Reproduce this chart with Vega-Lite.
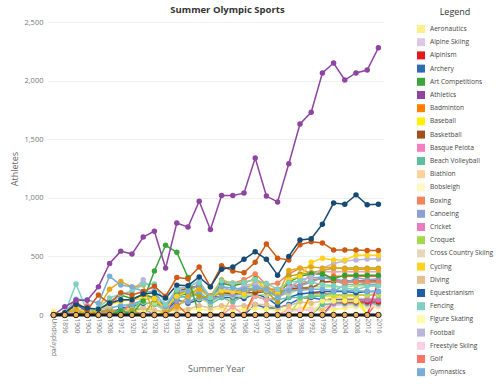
{
"$schema":"https://vega.github.io/schema/vega-lite/v6.json",
"width":353,"height":293,
"autosize":{"type":"none"},
"padding":{"left":45,"top":22,"right":102,"bottom":74},
"background":"white",
"config":{"font":"Open Sans","view":{"stroke":null},
"legend":{"padding":0,"symbolType":"square","symbolSize":64,"symbolStrokeWidth":0,"symbolOpacity":1,"labelFontSize":6.6,"labelColor":"#444","labelOffset":5,"rowPadding":5.2,"titleFontSize":9,"titleFontWeight":"normal","titleColor":"#333","titleAnchor":"middle","titlePadding":8,"labelLimit":120}},
"title":{"text":"Summer Olympic Sports","fontSize":9.5,"fontWeight":"bold","color":"#333","anchor":"middle","dx":6,"offset":-6},
"datasets":{
"zero":[{"x":"Undisplayed","v":0},{"x":"1896","v":0},{"x":"1900","v":0},{"x":"1904","v":0},{"x":"1906","v":0},{"x":"1908","v":0},{"x":"1912","v":0},{"x":"1920","v":0},{"x":"1924","v":0},{"x":"1928","v":0},{"x":"1932","v":0},{"x":"1936","v":0},{"x":"1948","v":0},{"x":"1952","v":0},{"x":"1956","v":0},{"x":"1960","v":0},{"x":"1964","v":0},{"x":"1968","v":0},{"x":"1972","v":0},{"x":"1976","v":0},{"x":"1980","v":0},{"x":"1984","v":0},{"x":"1988","v":0},{"x":"1992","v":0},{"x":"1996","v":0},{"x":"2000","v":0},{"x":"2004","v":0},{"x":"2008","v":0},{"x":"2012","v":0},{"x":"2016","v":0}],
"sports":[
{"s":"Aeronautics","x":"Undisplayed","v":35},{"s":"Aeronautics","x":"1896","v":0},
{"s":"Basque Pelota","x":"1896","v":0},{"s":"Basque Pelota","x":"1900","v":4},{"s":"Basque Pelota","x":"1904","v":0},
{"s":"Cricket","x":"1896","v":0},{"s":"Cricket","x":"1900","v":25},{"s":"Cricket","x":"1904","v":0},
{"s":"Croquet","x":"1896","v":0},{"s":"Croquet","x":"1900","v":10},{"s":"Croquet","x":"1904","v":0},
{"s":"Alpinism","x":"1920","v":0},{"s":"Alpinism","x":"1924","v":13},{"s":"Alpinism","x":"1928","v":0},{"s":"Alpinism","x":"1932","v":2},{"s":"Alpinism","x":"1936","v":2},{"s":"Alpinism","x":"1948","v":0},
{"s":"Figure Skating","x":"1904","v":0},{"s":"Figure Skating","x":"1908","v":20},{"s":"Figure Skating","x":"1912","v":0},{"s":"Figure Skating","x":"1920","v":25},{"s":"Figure Skating","x":"1924","v":0},
{"s":"Rugby","x":"1896","v":0},{"s":"Rugby","x":"1900","v":50},{"s":"Rugby","x":"1904","v":0},{"s":"Rugby","x":"1906","v":0},{"s":"Rugby","x":"1908","v":30},{"s":"Rugby","x":"1912","v":0},{"s":"Rugby","x":"1920","v":30},{"s":"Rugby","x":"1924","v":60},{"s":"Rugby","x":"1928","v":0},
{"s":"Tug-Of-War","x":"1896","v":0},{"s":"Tug-Of-War","x":"1900","v":10},{"s":"Tug-Of-War","x":"1904","v":20},{"s":"Tug-Of-War","x":"1906","v":30},{"s":"Tug-Of-War","x":"1908","v":30},{"s":"Tug-Of-War","x":"1912","v":20},{"s":"Tug-Of-War","x":"1920","v":40},{"s":"Tug-Of-War","x":"1924","v":0},
{"s":"Polo","x":"1896","v":0},{"s":"Polo","x":"1900","v":20},{"s":"Polo","x":"1904","v":0},{"s":"Polo","x":"1908","v":10},{"s":"Polo","x":"1912","v":0},{"s":"Polo","x":"1920","v":20},{"s":"Polo","x":"1924","v":25},{"s":"Polo","x":"1928","v":0},{"s":"Polo","x":"1932","v":0},{"s":"Polo","x":"1936","v":25},{"s":"Polo","x":"1948","v":0},
{"s":"Golf","x":"1896","v":0},{"s":"Golf","x":"1900","v":20},{"s":"Golf","x":"1904","v":80},{"s":"Golf","x":"1906","v":0},{"s":"Golf","x":"2012","v":0},{"s":"Golf","x":"2016","v":120},
{"s":"Archery","x":"1896","v":0},{"s":"Archery","x":"1900","v":90},{"s":"Archery","x":"1904","v":30},{"s":"Archery","x":"1906","v":0},{"s":"Archery","x":"1908","v":60},{"s":"Archery","x":"1912","v":0},{"s":"Archery","x":"1920","v":30},{"s":"Archery","x":"1924","v":0},{"s":"Archery","x":"1968","v":0},{"s":"Archery","x":"1972","v":90},{"s":"Archery","x":"1976","v":60},{"s":"Archery","x":"1980","v":60},{"s":"Archery","x":"1984","v":90},{"s":"Archery","x":"1988","v":140},{"s":"Archery","x":"1992","v":150},{"s":"Archery","x":"1996","v":130},{"s":"Archery","x":"2000","v":130},{"s":"Archery","x":"2004","v":130},{"s":"Archery","x":"2008","v":130},{"s":"Archery","x":"2012","v":130},{"s":"Archery","x":"2016","v":130},
{"s":"Tennis","x":"Undisplayed","v":0},{"s":"Tennis","x":"1896","v":15},{"s":"Tennis","x":"1900","v":30},{"s":"Tennis","x":"1904","v":35},{"s":"Tennis","x":"1906","v":35},{"s":"Tennis","x":"1908","v":50},{"s":"Tennis","x":"1912","v":90},{"s":"Tennis","x":"1920","v":90},{"s":"Tennis","x":"1924","v":130},{"s":"Tennis","x":"1928","v":0},{"s":"Tennis","x":"1984","v":0},{"s":"Tennis","x":"1988","v":140},{"s":"Tennis","x":"1992","v":180},{"s":"Tennis","x":"1996","v":180},{"s":"Tennis","x":"2000","v":170},{"s":"Tennis","x":"2004","v":170},{"s":"Tennis","x":"2008","v":170},{"s":"Tennis","x":"2012","v":170},{"s":"Tennis","x":"2016","v":190},
{"s":"Modern Pentathlon","x":"1908","v":0},{"s":"Modern Pentathlon","x":"1912","v":30},{"s":"Modern Pentathlon","x":"1920","v":25},{"s":"Modern Pentathlon","x":"1924","v":40},{"s":"Modern Pentathlon","x":"1928","v":40},{"s":"Modern Pentathlon","x":"1932","v":25},{"s":"Modern Pentathlon","x":"1936","v":40},{"s":"Modern Pentathlon","x":"1948","v":45},{"s":"Modern Pentathlon","x":"1952","v":50},{"s":"Modern Pentathlon","x":"1956","v":40},{"s":"Modern Pentathlon","x":"1960","v":60},{"s":"Modern Pentathlon","x":"1964","v":40},{"s":"Modern Pentathlon","x":"1968","v":50},{"s":"Modern Pentathlon","x":"1972","v":60},{"s":"Modern Pentathlon","x":"1976","v":50},{"s":"Modern Pentathlon","x":"1980","v":40},{"s":"Modern Pentathlon","x":"1984","v":50},{"s":"Modern Pentathlon","x":"1988","v":60},{"s":"Modern Pentathlon","x":"1992","v":60},{"s":"Modern Pentathlon","x":"1996","v":30},{"s":"Modern Pentathlon","x":"2000","v":50},{"s":"Modern Pentathlon","x":"2004","v":60},{"s":"Modern Pentathlon","x":"2008","v":70},{"s":"Modern Pentathlon","x":"2012","v":70},{"s":"Modern Pentathlon","x":"2016","v":70},
{"s":"Diving","x":"1900","v":0},{"s":"Diving","x":"1904","v":5},{"s":"Diving","x":"1906","v":10},{"s":"Diving","x":"1908","v":40},{"s":"Diving","x":"1912","v":50},{"s":"Diving","x":"1920","v":50},{"s":"Diving","x":"1924","v":60},{"s":"Diving","x":"1928","v":40},{"s":"Diving","x":"1932","v":30},{"s":"Diving","x":"1936","v":50},{"s":"Diving","x":"1948","v":50},{"s":"Diving","x":"1952","v":80},{"s":"Diving","x":"1956","v":60},{"s":"Diving","x":"1960","v":80},{"s":"Diving","x":"1964","v":70},{"s":"Diving","x":"1968","v":80},{"s":"Diving","x":"1972","v":90},{"s":"Diving","x":"1976","v":90},{"s":"Diving","x":"1980","v":60},{"s":"Diving","x":"1984","v":80},{"s":"Diving","x":"1988","v":110},{"s":"Diving","x":"1992","v":100},{"s":"Diving","x":"1996","v":120},{"s":"Diving","x":"2000","v":150},{"s":"Diving","x":"2004","v":140},{"s":"Diving","x":"2008","v":140},{"s":"Diving","x":"2012","v":140},{"s":"Diving","x":"2016","v":140},
{"s":"Synchronized Swimming","x":"1980","v":0},{"s":"Synchronized Swimming","x":"1984","v":50},{"s":"Synchronized Swimming","x":"1988","v":40},{"s":"Synchronized Swimming","x":"1992","v":45},{"s":"Synchronized Swimming","x":"1996","v":50},{"s":"Synchronized Swimming","x":"2000","v":100},{"s":"Synchronized Swimming","x":"2004","v":100},{"s":"Synchronized Swimming","x":"2008","v":100},{"s":"Synchronized Swimming","x":"2012","v":100},{"s":"Synchronized Swimming","x":"2016","v":100},
{"s":"Rhythmic Gymnastics","x":"1980","v":0},{"s":"Rhythmic Gymnastics","x":"1984","v":30},{"s":"Rhythmic Gymnastics","x":"1988","v":40},{"s":"Rhythmic Gymnastics","x":"1992","v":40},{"s":"Rhythmic Gymnastics","x":"1996","v":80},{"s":"Rhythmic Gymnastics","x":"2000","v":80},{"s":"Rhythmic Gymnastics","x":"2004","v":80},{"s":"Rhythmic Gymnastics","x":"2008","v":80},{"s":"Rhythmic Gymnastics","x":"2012","v":80},{"s":"Rhythmic Gymnastics","x":"2016","v":80},
{"s":"Beach Volleyball","x":"1992","v":0},{"s":"Beach Volleyball","x":"1996","v":90},{"s":"Beach Volleyball","x":"2000","v":96},{"s":"Beach Volleyball","x":"2004","v":96},{"s":"Beach Volleyball","x":"2008","v":96},{"s":"Beach Volleyball","x":"2012","v":96},{"s":"Beach Volleyball","x":"2016","v":96},
{"s":"Triathlon","x":"1996","v":0},{"s":"Triathlon","x":"2000","v":110},{"s":"Triathlon","x":"2004","v":110},{"s":"Triathlon","x":"2008","v":110},{"s":"Triathlon","x":"2012","v":110},{"s":"Triathlon","x":"2016","v":110},
{"s":"Taekwondo","x":"1996","v":0},{"s":"Taekwondo","x":"2000","v":100},{"s":"Taekwondo","x":"2004","v":125},{"s":"Taekwondo","x":"2008","v":125},{"s":"Taekwondo","x":"2012","v":128},{"s":"Taekwondo","x":"2016","v":128},
{"s":"Softball","x":"1992","v":0},{"s":"Softball","x":"1996","v":120},{"s":"Softball","x":"2000","v":120},{"s":"Softball","x":"2004","v":120},{"s":"Softball","x":"2008","v":120},{"s":"Softball","x":"2012","v":0},
{"s":"Baseball","x":"1988","v":0},{"s":"Baseball","x":"1992","v":160},{"s":"Baseball","x":"1996","v":160},{"s":"Baseball","x":"2000","v":160},{"s":"Baseball","x":"2004","v":160},{"s":"Baseball","x":"2008","v":160},{"s":"Baseball","x":"2012","v":0},
{"s":"Badminton","x":"1988","v":0},{"s":"Badminton","x":"1992","v":180},{"s":"Badminton","x":"1996","v":190},{"s":"Badminton","x":"2000","v":170},{"s":"Badminton","x":"2004","v":170},{"s":"Badminton","x":"2008","v":170},{"s":"Badminton","x":"2012","v":170},{"s":"Badminton","x":"2016","v":170},
{"s":"Table Tennis","x":"1984","v":0},{"s":"Table Tennis","x":"1988","v":130},{"s":"Table Tennis","x":"1992","v":170},{"s":"Table Tennis","x":"1996","v":170},{"s":"Table Tennis","x":"2000","v":170},{"s":"Table Tennis","x":"2004","v":170},{"s":"Table Tennis","x":"2008","v":170},{"s":"Table Tennis","x":"2012","v":170},{"s":"Table Tennis","x":"2016","v":170},
{"s":"Rugby Sevens","x":"2012","v":0},{"s":"Rugby Sevens","x":"2016","v":290},
{"s":"Equestrianism","x":"1896","v":0},{"s":"Equestrianism","x":"1900","v":50},{"s":"Equestrianism","x":"1904","v":0},{"s":"Equestrianism","x":"1908","v":0},{"s":"Equestrianism","x":"1912","v":60},{"s":"Equestrianism","x":"1920","v":70},{"s":"Equestrianism","x":"1924","v":100},{"s":"Equestrianism","x":"1928","v":110},{"s":"Equestrianism","x":"1932","v":30},{"s":"Equestrianism","x":"1936","v":130},{"s":"Equestrianism","x":"1948","v":100},{"s":"Equestrianism","x":"1952","v":130},{"s":"Equestrianism","x":"1956","v":160},{"s":"Equestrianism","x":"1960","v":150},{"s":"Equestrianism","x":"1964","v":150},{"s":"Equestrianism","x":"1968","v":140},{"s":"Equestrianism","x":"1972","v":180},{"s":"Equestrianism","x":"1976","v":150},{"s":"Equestrianism","x":"1980","v":80},{"s":"Equestrianism","x":"1984","v":150},{"s":"Equestrianism","x":"1988","v":180},{"s":"Equestrianism","x":"1992","v":190},{"s":"Equestrianism","x":"1996","v":200},{"s":"Equestrianism","x":"2000","v":200},{"s":"Equestrianism","x":"2004","v":200},{"s":"Equestrianism","x":"2008","v":190},{"s":"Equestrianism","x":"2012","v":200},{"s":"Equestrianism","x":"2016","v":200},
{"s":"Water Polo","x":"1896","v":0},{"s":"Water Polo","x":"1900","v":60},{"s":"Water Polo","x":"1904","v":20},{"s":"Water Polo","x":"1906","v":0},{"s":"Water Polo","x":"1908","v":20},{"s":"Water Polo","x":"1912","v":40},{"s":"Water Polo","x":"1920","v":80},{"s":"Water Polo","x":"1924","v":110},{"s":"Water Polo","x":"1928","v":90},{"s":"Water Polo","x":"1932","v":40},{"s":"Water Polo","x":"1936","v":150},{"s":"Water Polo","x":"1948","v":160},{"s":"Water Polo","x":"1952","v":180},{"s":"Water Polo","x":"1956","v":90},{"s":"Water Polo","x":"1960","v":150},{"s":"Water Polo","x":"1964","v":110},{"s":"Water Polo","x":"1968","v":170},{"s":"Water Polo","x":"1972","v":160},{"s":"Water Polo","x":"1976","v":130},{"s":"Water Polo","x":"1980","v":130},{"s":"Water Polo","x":"1984","v":150},{"s":"Water Polo","x":"1988","v":150},{"s":"Water Polo","x":"1992","v":160},{"s":"Water Polo","x":"1996","v":160},{"s":"Water Polo","x":"2000","v":200},{"s":"Water Polo","x":"2004","v":260},{"s":"Water Polo","x":"2008","v":260},{"s":"Water Polo","x":"2012","v":260},{"s":"Water Polo","x":"2016","v":260},
{"s":"Weightlifting","x":"Undisplayed","v":0},{"s":"Weightlifting","x":"1896","v":5},{"s":"Weightlifting","x":"1900","v":0},{"s":"Weightlifting","x":"1904","v":5},{"s":"Weightlifting","x":"1906","v":15},{"s":"Weightlifting","x":"1908","v":0},{"s":"Weightlifting","x":"1912","v":0},{"s":"Weightlifting","x":"1920","v":50},{"s":"Weightlifting","x":"1924","v":110},{"s":"Weightlifting","x":"1928","v":100},{"s":"Weightlifting","x":"1932","v":30},{"s":"Weightlifting","x":"1936","v":80},{"s":"Weightlifting","x":"1948","v":120},{"s":"Weightlifting","x":"1952","v":140},{"s":"Weightlifting","x":"1956","v":100},{"s":"Weightlifting","x":"1960","v":170},{"s":"Weightlifting","x":"1964","v":160},{"s":"Weightlifting","x":"1968","v":160},{"s":"Weightlifting","x":"1972","v":180},{"s":"Weightlifting","x":"1976","v":170},{"s":"Weightlifting","x":"1980","v":170},{"s":"Weightlifting","x":"1984","v":180},{"s":"Weightlifting","x":"1988","v":230},{"s":"Weightlifting","x":"1992","v":240},{"s":"Weightlifting","x":"1996","v":240},{"s":"Weightlifting","x":"2000","v":240},{"s":"Weightlifting","x":"2004","v":240},{"s":"Weightlifting","x":"2008","v":250},{"s":"Weightlifting","x":"2012","v":250},{"s":"Weightlifting","x":"2016","v":250},
{"s":"Judo","x":"1960","v":0},{"s":"Judo","x":"1964","v":70},{"s":"Judo","x":"1968","v":0},{"s":"Judo","x":"1972","v":160},{"s":"Judo","x":"1976","v":130},{"s":"Judo","x":"1980","v":150},{"s":"Judo","x":"1984","v":200},{"s":"Judo","x":"1988","v":250},{"s":"Judo","x":"1992","v":360},{"s":"Judo","x":"1996","v":370},{"s":"Judo","x":"2000","v":370},{"s":"Judo","x":"2004","v":370},{"s":"Judo","x":"2008","v":370},{"s":"Judo","x":"2012","v":370},{"s":"Judo","x":"2016","v":370},
{"s":"Volleyball","x":"1960","v":0},{"s":"Volleyball","x":"1964","v":170},{"s":"Volleyball","x":"1968","v":200},{"s":"Volleyball","x":"1972","v":230},{"s":"Volleyball","x":"1976","v":220},{"s":"Volleyball","x":"1980","v":200},{"s":"Volleyball","x":"1984","v":220},{"s":"Volleyball","x":"1988","v":220},{"s":"Volleyball","x":"1992","v":230},{"s":"Volleyball","x":"1996","v":280},{"s":"Volleyball","x":"2000","v":280},{"s":"Volleyball","x":"2004","v":280},{"s":"Volleyball","x":"2008","v":280},{"s":"Volleyball","x":"2012","v":280},{"s":"Volleyball","x":"2016","v":280},
{"s":"Handball","x":"1932","v":0},{"s":"Handball","x":"1936","v":90},{"s":"Handball","x":"1948","v":0},{"s":"Handball","x":"1968","v":0},{"s":"Handball","x":"1972","v":200},{"s":"Handball","x":"1976","v":220},{"s":"Handball","x":"1980","v":220},{"s":"Handball","x":"1984","v":260},{"s":"Handball","x":"1988","v":250},{"s":"Handball","x":"1992","v":300},{"s":"Handball","x":"1996","v":310},{"s":"Handball","x":"2000","v":330},{"s":"Handball","x":"2004","v":330},{"s":"Handball","x":"2008","v":330},{"s":"Handball","x":"2012","v":330},{"s":"Handball","x":"2016","v":330},
{"s":"Basketball","x":"1932","v":0},{"s":"Basketball","x":"1936","v":200},{"s":"Basketball","x":"1948","v":230},{"s":"Basketball","x":"1952","v":250},{"s":"Basketball","x":"1956","v":160},{"s":"Basketball","x":"1960","v":190},{"s":"Basketball","x":"1964","v":180},{"s":"Basketball","x":"1968","v":190},{"s":"Basketball","x":"1972","v":190},{"s":"Basketball","x":"1976","v":200},{"s":"Basketball","x":"1980","v":200},{"s":"Basketball","x":"1984","v":220},{"s":"Basketball","x":"1988","v":230},{"s":"Basketball","x":"1992","v":230},{"s":"Basketball","x":"1996","v":280},{"s":"Basketball","x":"2000","v":290},{"s":"Basketball","x":"2004","v":290},{"s":"Basketball","x":"2008","v":290},{"s":"Basketball","x":"2012","v":290},{"s":"Basketball","x":"2016","v":290},
{"s":"Canoeing","x":"1932","v":0},{"s":"Canoeing","x":"1936","v":120},{"s":"Canoeing","x":"1948","v":110},{"s":"Canoeing","x":"1952","v":150},{"s":"Canoeing","x":"1956","v":120},{"s":"Canoeing","x":"1960","v":170},{"s":"Canoeing","x":"1964","v":170},{"s":"Canoeing","x":"1968","v":180},{"s":"Canoeing","x":"1972","v":230},{"s":"Canoeing","x":"1976","v":230},{"s":"Canoeing","x":"1980","v":170},{"s":"Canoeing","x":"1984","v":230},{"s":"Canoeing","x":"1988","v":250},{"s":"Canoeing","x":"1992","v":280},{"s":"Canoeing","x":"1996","v":320},{"s":"Canoeing","x":"2000","v":300},{"s":"Canoeing","x":"2004","v":260},{"s":"Canoeing","x":"2008","v":320},{"s":"Canoeing","x":"2012","v":300},{"s":"Canoeing","x":"2016","v":310},
{"s":"Sailing","x":"1896","v":0},{"s":"Sailing","x":"1900","v":40},{"s":"Sailing","x":"1904","v":0},{"s":"Sailing","x":"1906","v":0},{"s":"Sailing","x":"1908","v":60},{"s":"Sailing","x":"1912","v":80},{"s":"Sailing","x":"1920","v":90},{"s":"Sailing","x":"1924","v":130},{"s":"Sailing","x":"1928","v":150},{"s":"Sailing","x":"1932","v":60},{"s":"Sailing","x":"1936","v":180},{"s":"Sailing","x":"1948","v":140},{"s":"Sailing","x":"1952","v":200},{"s":"Sailing","x":"1956","v":110},{"s":"Sailing","x":"1960","v":250},{"s":"Sailing","x":"1964","v":200},{"s":"Sailing","x":"1968","v":230},{"s":"Sailing","x":"1972","v":260},{"s":"Sailing","x":"1976","v":200},{"s":"Sailing","x":"1980","v":160},{"s":"Sailing","x":"1984","v":230},{"s":"Sailing","x":"1988","v":300},{"s":"Sailing","x":"1992","v":320},{"s":"Sailing","x":"1996","v":320},{"s":"Sailing","x":"2000","v":310},{"s":"Sailing","x":"2004","v":290},{"s":"Sailing","x":"2008","v":290},{"s":"Sailing","x":"2012","v":260},{"s":"Sailing","x":"2016","v":260},
{"s":"Boxing","x":"1900","v":0},{"s":"Boxing","x":"1904","v":20},{"s":"Boxing","x":"1906","v":0},{"s":"Boxing","x":"1908","v":40},{"s":"Boxing","x":"1912","v":0},{"s":"Boxing","x":"1920","v":120},{"s":"Boxing","x":"1924","v":180},{"s":"Boxing","x":"1928","v":140},{"s":"Boxing","x":"1932","v":80},{"s":"Boxing","x":"1936","v":180},{"s":"Boxing","x":"1948","v":210},{"s":"Boxing","x":"1952","v":250},{"s":"Boxing","x":"1956","v":160},{"s":"Boxing","x":"1960","v":280},{"s":"Boxing","x":"1964","v":270},{"s":"Boxing","x":"1968","v":300},{"s":"Boxing","x":"1972","v":350},{"s":"Boxing","x":"1976","v":260},{"s":"Boxing","x":"1980","v":270},{"s":"Boxing","x":"1984","v":350},{"s":"Boxing","x":"1988","v":400},{"s":"Boxing","x":"1992","v":350},{"s":"Boxing","x":"1996","v":360},{"s":"Boxing","x":"2000","v":300},{"s":"Boxing","x":"2004","v":280},{"s":"Boxing","x":"2008","v":280},{"s":"Boxing","x":"2012","v":280},{"s":"Boxing","x":"2016","v":280},
{"s":"Hockey","x":"1904","v":0},{"s":"Hockey","x":"1908","v":50},{"s":"Hockey","x":"1912","v":0},{"s":"Hockey","x":"1920","v":40},{"s":"Hockey","x":"1924","v":0},{"s":"Hockey","x":"1928","v":130},{"s":"Hockey","x":"1932","v":40},{"s":"Hockey","x":"1936","v":180},{"s":"Hockey","x":"1948","v":200},{"s":"Hockey","x":"1952","v":160},{"s":"Hockey","x":"1956","v":150},{"s":"Hockey","x":"1960","v":190},{"s":"Hockey","x":"1964","v":200},{"s":"Hockey","x":"1968","v":210},{"s":"Hockey","x":"1972","v":220},{"s":"Hockey","x":"1976","v":200},{"s":"Hockey","x":"1980","v":110},{"s":"Hockey","x":"1984","v":330},{"s":"Hockey","x":"1988","v":350},{"s":"Hockey","x":"1992","v":360},{"s":"Hockey","x":"1996","v":380},{"s":"Hockey","x":"2000","v":400},{"s":"Hockey","x":"2004","v":400},{"s":"Hockey","x":"2008","v":400},{"s":"Hockey","x":"2012","v":400},{"s":"Hockey","x":"2016","v":400},
{"s":"Wrestling","x":"Undisplayed","v":0},{"s":"Wrestling","x":"1896","v":5},{"s":"Wrestling","x":"1900","v":0},{"s":"Wrestling","x":"1904","v":40},{"s":"Wrestling","x":"1906","v":40},{"s":"Wrestling","x":"1908","v":110},{"s":"Wrestling","x":"1912","v":170},{"s":"Wrestling","x":"1920","v":140},{"s":"Wrestling","x":"1924","v":170},{"s":"Wrestling","x":"1928","v":150},{"s":"Wrestling","x":"1932","v":70},{"s":"Wrestling","x":"1936","v":170},{"s":"Wrestling","x":"1948","v":180},{"s":"Wrestling","x":"1952","v":230},{"s":"Wrestling","x":"1956","v":140},{"s":"Wrestling","x":"1960","v":270},{"s":"Wrestling","x":"1964","v":250},{"s":"Wrestling","x":"1968","v":270},{"s":"Wrestling","x":"1972","v":310},{"s":"Wrestling","x":"1976","v":210},{"s":"Wrestling","x":"1980","v":180},{"s":"Wrestling","x":"1984","v":280},{"s":"Wrestling","x":"1988","v":330},{"s":"Wrestling","x":"1992","v":350},{"s":"Wrestling","x":"1996","v":350},{"s":"Wrestling","x":"2000","v":310},{"s":"Wrestling","x":"2004","v":340},{"s":"Wrestling","x":"2008","v":340},{"s":"Wrestling","x":"2012","v":340},{"s":"Wrestling","x":"2016","v":340},
{"s":"Football","x":"Undisplayed","v":0},{"s":"Football","x":"1896","v":0},{"s":"Football","x":"1900","v":40},{"s":"Football","x":"1904","v":30},{"s":"Football","x":"1906","v":40},{"s":"Football","x":"1908","v":70},{"s":"Football","x":"1912","v":180},{"s":"Football","x":"1920","v":200},{"s":"Football","x":"1924","v":300},{"s":"Football","x":"1928","v":200},{"s":"Football","x":"1932","v":0},{"s":"Football","x":"1936","v":230},{"s":"Football","x":"1948","v":240},{"s":"Football","x":"1952","v":290},{"s":"Football","x":"1956","v":150},{"s":"Football","x":"1960","v":230},{"s":"Football","x":"1964","v":200},{"s":"Football","x":"1968","v":250},{"s":"Football","x":"1972","v":270},{"s":"Football","x":"1976","v":210},{"s":"Football","x":"1980","v":210},{"s":"Football","x":"1984","v":230},{"s":"Football","x":"1988","v":300},{"s":"Football","x":"1992","v":320},{"s":"Football","x":"1996","v":400},{"s":"Football","x":"2000","v":440},{"s":"Football","x":"2004","v":460},{"s":"Football","x":"2008","v":470},{"s":"Football","x":"2012","v":477},{"s":"Football","x":"2016","v":477},
{"s":"Cycling","x":"Undisplayed","v":0},{"s":"Cycling","x":"1896","v":20},{"s":"Cycling","x":"1900","v":60},{"s":"Cycling","x":"1904","v":20},{"s":"Cycling","x":"1906","v":40},{"s":"Cycling","x":"1908","v":90},{"s":"Cycling","x":"1912","v":120},{"s":"Cycling","x":"1920","v":130},{"s":"Cycling","x":"1924","v":140},{"s":"Cycling","x":"1928","v":140},{"s":"Cycling","x":"1932","v":60},{"s":"Cycling","x":"1936","v":160},{"s":"Cycling","x":"1948","v":200},{"s":"Cycling","x":"1952","v":220},{"s":"Cycling","x":"1956","v":150},{"s":"Cycling","x":"1960","v":210},{"s":"Cycling","x":"1964","v":200},{"s":"Cycling","x":"1968","v":180},{"s":"Cycling","x":"1972","v":300},{"s":"Cycling","x":"1976","v":220},{"s":"Cycling","x":"1980","v":180},{"s":"Cycling","x":"1984","v":300},{"s":"Cycling","x":"1988","v":330},{"s":"Cycling","x":"1992","v":450},{"s":"Cycling","x":"1996","v":485},{"s":"Cycling","x":"2000","v":470},{"s":"Cycling","x":"2004","v":470},{"s":"Cycling","x":"2008","v":510},{"s":"Cycling","x":"2012","v":510},{"s":"Cycling","x":"2016","v":510},
{"s":"Shooting","x":"Undisplayed","v":0},{"s":"Shooting","x":"1896","v":20},{"s":"Shooting","x":"1900","v":45},{"s":"Shooting","x":"1904","v":0},{"s":"Shooting","x":"1906","v":60},{"s":"Shooting","x":"1908","v":220},{"s":"Shooting","x":"1912","v":285},{"s":"Shooting","x":"1920","v":240},{"s":"Shooting","x":"1924","v":255},{"s":"Shooting","x":"1928","v":0},{"s":"Shooting","x":"1932","v":25},{"s":"Shooting","x":"1936","v":70},{"s":"Shooting","x":"1948","v":160},{"s":"Shooting","x":"1952","v":220},{"s":"Shooting","x":"1956","v":160},{"s":"Shooting","x":"1960","v":300},{"s":"Shooting","x":"1964","v":270},{"s":"Shooting","x":"1968","v":280},{"s":"Shooting","x":"1972","v":300},{"s":"Shooting","x":"1976","v":260},{"s":"Shooting","x":"1980","v":160},{"s":"Shooting","x":"1984","v":380},{"s":"Shooting","x":"1988","v":400},{"s":"Shooting","x":"1992","v":410},{"s":"Shooting","x":"1996","v":400},{"s":"Shooting","x":"2000","v":410},{"s":"Shooting","x":"2004","v":390},{"s":"Shooting","x":"2008","v":390},{"s":"Shooting","x":"2012","v":390},{"s":"Shooting","x":"2016","v":390},
{"s":"Gymnastics","x":"Undisplayed","v":0},{"s":"Gymnastics","x":"1896","v":20},{"s":"Gymnastics","x":"1900","v":135},{"s":"Gymnastics","x":"1904","v":130},{"s":"Gymnastics","x":"1906","v":100},{"s":"Gymnastics","x":"1908","v":330},{"s":"Gymnastics","x":"1912","v":255},{"s":"Gymnastics","x":"1920","v":240},{"s":"Gymnastics","x":"1924","v":200},{"s":"Gymnastics","x":"1928","v":200},{"s":"Gymnastics","x":"1932","v":70},{"s":"Gymnastics","x":"1936","v":210},{"s":"Gymnastics","x":"1948","v":200},{"s":"Gymnastics","x":"1952","v":260},{"s":"Gymnastics","x":"1956","v":150},{"s":"Gymnastics","x":"1960","v":240},{"s":"Gymnastics","x":"1964","v":230},{"s":"Gymnastics","x":"1968","v":220},{"s":"Gymnastics","x":"1972","v":230},{"s":"Gymnastics","x":"1976","v":220},{"s":"Gymnastics","x":"1980","v":150},{"s":"Gymnastics","x":"1984","v":210},{"s":"Gymnastics","x":"1988","v":210},{"s":"Gymnastics","x":"1992","v":220},{"s":"Gymnastics","x":"1996","v":220},{"s":"Gymnastics","x":"2000","v":210},{"s":"Gymnastics","x":"2004","v":210},{"s":"Gymnastics","x":"2008","v":210},{"s":"Gymnastics","x":"2012","v":200},{"s":"Gymnastics","x":"2016","v":200},
{"s":"Fencing","x":"Undisplayed","v":0},{"s":"Fencing","x":"1896","v":15},{"s":"Fencing","x":"1900","v":265},{"s":"Fencing","x":"1904","v":30},{"s":"Fencing","x":"1906","v":60},{"s":"Fencing","x":"1908","v":145},{"s":"Fencing","x":"1912","v":180},{"s":"Fencing","x":"1920","v":200},{"s":"Fencing","x":"1924","v":260},{"s":"Fencing","x":"1928","v":265},{"s":"Fencing","x":"1932","v":90},{"s":"Fencing","x":"1936","v":220},{"s":"Fencing","x":"1948","v":240},{"s":"Fencing","x":"1952","v":280},{"s":"Fencing","x":"1956","v":150},{"s":"Fencing","x":"1960","v":290},{"s":"Fencing","x":"1964","v":270},{"s":"Fencing","x":"1968","v":280},{"s":"Fencing","x":"1972","v":300},{"s":"Fencing","x":"1976","v":270},{"s":"Fencing","x":"1980","v":220},{"s":"Fencing","x":"1984","v":280},{"s":"Fencing","x":"1988","v":290},{"s":"Fencing","x":"1992","v":280},{"s":"Fencing","x":"1996","v":260},{"s":"Fencing","x":"2000","v":250},{"s":"Fencing","x":"2004","v":230},{"s":"Fencing","x":"2008","v":215},{"s":"Fencing","x":"2012","v":245},{"s":"Fencing","x":"2016","v":250},
{"s":"Art Competitions","x":"1908","v":0},{"s":"Art Competitions","x":"1912","v":35},{"s":"Art Competitions","x":"1920","v":10},{"s":"Art Competitions","x":"1924","v":120},{"s":"Art Competitions","x":"1928","v":375},{"s":"Art Competitions","x":"1932","v":595},{"s":"Art Competitions","x":"1936","v":535},{"s":"Art Competitions","x":"1948","v":320},{"s":"Art Competitions","x":"1952","v":0},
{"s":"Rowing","x":"Undisplayed","v":0},{"s":"Rowing","x":"1896","v":0},{"s":"Rowing","x":"1900","v":110},{"s":"Rowing","x":"1904","v":40},{"s":"Rowing","x":"1906","v":170},{"s":"Rowing","x":"1908","v":100},{"s":"Rowing","x":"1912","v":190},{"s":"Rowing","x":"1920","v":170},{"s":"Rowing","x":"1924","v":200},{"s":"Rowing","x":"1928","v":245},{"s":"Rowing","x":"1932","v":160},{"s":"Rowing","x":"1936","v":320},{"s":"Rowing","x":"1948","v":310},{"s":"Rowing","x":"1952","v":410},{"s":"Rowing","x":"1956","v":240},{"s":"Rowing","x":"1960","v":420},{"s":"Rowing","x":"1964","v":375},{"s":"Rowing","x":"1968","v":360},{"s":"Rowing","x":"1972","v":450},{"s":"Rowing","x":"1976","v":605},{"s":"Rowing","x":"1980","v":485},{"s":"Rowing","x":"1984","v":470},{"s":"Rowing","x":"1988","v":600},{"s":"Rowing","x":"1992","v":625},{"s":"Rowing","x":"1996","v":615},{"s":"Rowing","x":"2000","v":555},{"s":"Rowing","x":"2004","v":555},{"s":"Rowing","x":"2008","v":555},{"s":"Rowing","x":"2012","v":550},{"s":"Rowing","x":"2016","v":550},
{"s":"Swimming","x":"Undisplayed","v":0},{"s":"Swimming","x":"1896","v":20},{"s":"Swimming","x":"1900","v":90},{"s":"Swimming","x":"1904","v":60},{"s":"Swimming","x":"1906","v":50},{"s":"Swimming","x":"1908","v":100},{"s":"Swimming","x":"1912","v":130},{"s":"Swimming","x":"1920","v":130},{"s":"Swimming","x":"1924","v":180},{"s":"Swimming","x":"1928","v":190},{"s":"Swimming","x":"1932","v":145},{"s":"Swimming","x":"1936","v":255},{"s":"Swimming","x":"1948","v":250},{"s":"Swimming","x":"1952","v":325},{"s":"Swimming","x":"1956","v":240},{"s":"Swimming","x":"1960","v":390},{"s":"Swimming","x":"1964","v":410},{"s":"Swimming","x":"1968","v":475},{"s":"Swimming","x":"1972","v":540},{"s":"Swimming","x":"1976","v":475},{"s":"Swimming","x":"1980","v":340},{"s":"Swimming","x":"1984","v":500},{"s":"Swimming","x":"1988","v":640},{"s":"Swimming","x":"1992","v":650},{"s":"Swimming","x":"1996","v":775},{"s":"Swimming","x":"2000","v":955},{"s":"Swimming","x":"2004","v":945},{"s":"Swimming","x":"2008","v":1025},{"s":"Swimming","x":"2012","v":940},{"s":"Swimming","x":"2016","v":945},
{"s":"Athletics","x":"Undisplayed","v":0},{"s":"Athletics","x":"1896","v":70},{"s":"Athletics","x":"1900","v":125},{"s":"Athletics","x":"1904","v":125},{"s":"Athletics","x":"1906","v":240},{"s":"Athletics","x":"1908","v":440},{"s":"Athletics","x":"1912","v":545},{"s":"Athletics","x":"1920","v":520},{"s":"Athletics","x":"1924","v":665},{"s":"Athletics","x":"1928","v":715},{"s":"Athletics","x":"1932","v":400},{"s":"Athletics","x":"1936","v":785},{"s":"Athletics","x":"1948","v":750},{"s":"Athletics","x":"1952","v":970},{"s":"Athletics","x":"1956","v":730},{"s":"Athletics","x":"1960","v":1020},{"s":"Athletics","x":"1964","v":1020},{"s":"Athletics","x":"1968","v":1040},{"s":"Athletics","x":"1972","v":1340},{"s":"Athletics","x":"1976","v":1015},{"s":"Athletics","x":"1980","v":965},{"s":"Athletics","x":"1984","v":1290},{"s":"Athletics","x":"1988","v":1630},{"s":"Athletics","x":"1992","v":1730},{"s":"Athletics","x":"1996","v":2065},{"s":"Athletics","x":"2000","v":2150},{"s":"Athletics","x":"2004","v":2005},{"s":"Athletics","x":"2008","v":2065},{"s":"Athletics","x":"2012","v":2090},{"s":"Athletics","x":"2016","v":2280}
]},
"encoding":{
"x":{"field":"x","type":"ordinal","scale":{"type":"point","domain":["Undisplayed","1896","1900","1904","1906","1908","1912","1920","1924","1928","1932","1936","1948","1952","1956","1960","1964","1968","1972","1976","1980","1984","1988","1992","1996","2000","2004","2008","2012","2016"],"range":[3,339]},
 "axis":{"title":"Summer Year","labelAngle":90,"labelFontSize":6.5,"labelColor":"#777","labelPadding":3,"ticks":false,"domain":false,"grid":false,"titleFontSize":9,"titleFontWeight":"normal","titleColor":"#666","titlePadding":9}},
"y":{"field":"v","type":"quantitative","scale":{"domain":[0,2500],"nice":false,"zero":true},
 "axis":{"title":"Athletes","values":[0,500,1000,1500,2000,2500],"format":",.0f","labelFontSize":7.5,"labelColor":"#777","labelPadding":2,"ticks":false,"domain":false,"gridColor":"#efefef","gridWidth":1,"titleFontSize":9,"titleFontWeight":"normal","titleColor":"#666","titlePadding":4}}
},
"layer":[
{"data":{"name":"sports"},"mark":{"type":"line","strokeWidth":1.5},
 "encoding":{"order":{"value":null},"color":{"field":"s","type":"nominal",
  "scale":{"domain":["Aeronautics","Alpine Skiing","Alpinism","Archery","Art Competitions","Athletics","Badminton","Baseball","Basketball","Basque Pelota","Beach Volleyball","Biathlon","Bobsleigh","Boxing","Canoeing","Cricket","Croquet","Cross Country Skiing","Cycling","Diving","Equestrianism","Fencing","Figure Skating","Football","Freestyle Skiing","Golf","Gymnastics","Handball","Hockey","Judo","Modern Pentathlon","Polo","Rhythmic Gymnastics","Rowing","Rugby","Rugby Sevens","Sailing","Shooting","Softball","Swimming","Synchronized Swimming","Table Tennis","Taekwondo","Tennis","Triathlon","Tug-Of-War","Volleyball","Water Polo","Weightlifting","Wrestling"],
  "range":["#FFEE8C","#DCC8E4","#E31A1C","#2E6DB4","#3AA539","#8E44A0","#FF7F00","#FFF200","#A0501E","#F47EC0","#5CBF9B","#FCD19C","#FFF8C4","#F4845A","#8D9FD2","#E97CC0","#A5D84E","#E6D7BB","#FFD21F","#E3C08D","#1E5CA8","#7FD0C0","#FFFBAA","#BBB5DA","#FBD0E4","#FB7468","#79ADD8","#E8731C","#B8A21E","#F7A1A1","#FFF176","#D9D9D9","#FCCDE5","#CC5A14","#9E9AC8","#E7298A","#6BAED6","#E6A817","#FFED6F","#154A75","#FDBF6F","#B3DE69","#BC80BD","#CCEBC5","#E41A1C","#8C6D31","#FDB462","#66C2A5","#B2DF8A","#33A02C"]},
  "legend":{"title":"Legend","orient":"none","legendX":372,"legendY":-14,"symbolType":"square","symbolFillColor":null,"values":["Aeronautics","Alpine Skiing","Alpinism","Archery","Art Competitions","Athletics","Badminton","Baseball","Basketball","Basque Pelota","Beach Volleyball","Biathlon","Bobsleigh","Boxing","Canoeing","Cricket","Croquet","Cross Country Skiing","Cycling","Diving","Equestrianism","Fencing","Figure Skating","Football","Freestyle Skiing","Golf","Gymnastics"]}}}},
{"data":{"name":"sports"},"mark":{"type":"point","filled":true,"size":30,"opacity":1},
 "encoding":{"color":{"field":"s","type":"nominal",
  "legend":{"title":"Legend","orient":"none","legendX":372,"legendY":-14,"symbolType":"square","values":["Aeronautics","Alpine Skiing","Alpinism","Archery","Art Competitions","Athletics","Badminton","Baseball","Basketball","Basque Pelota","Beach Volleyball","Biathlon","Bobsleigh","Boxing","Canoeing","Cricket","Croquet","Cross Country Skiing","Cycling","Diving","Equestrianism","Fencing","Figure Skating","Football","Freestyle Skiing","Golf","Gymnastics"]}}}},
{"data":{"name":"zero"},"mark":{"type":"line","color":"#1a1a1a","strokeWidth":3},"encoding":{"order":{"value":null}}},
{"data":{"name":"zero"},"mark":{"type":"point","filled":true,"size":30,"fill":"#F7B05B","stroke":"#222","strokeWidth":1,"opacity":1},"encoding":{}}
]
}
